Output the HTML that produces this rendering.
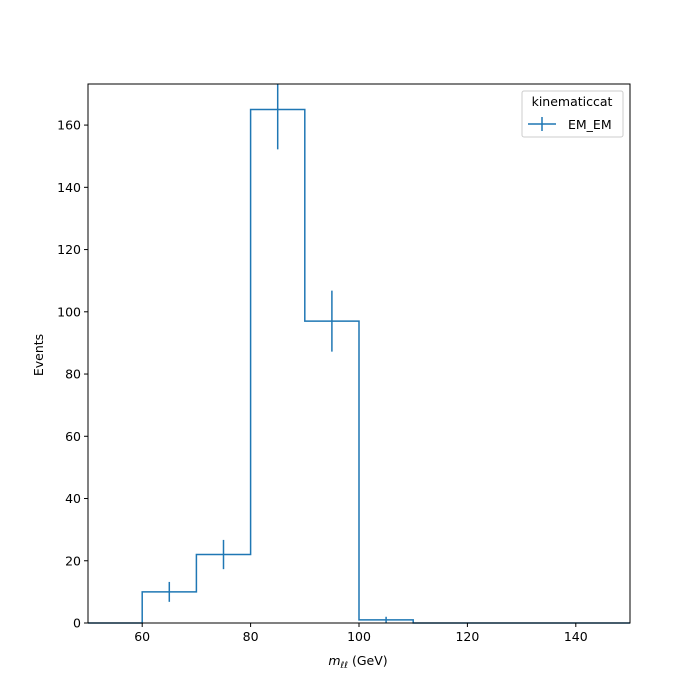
<!DOCTYPE html>
<html><head><meta charset="utf-8"><style>
html,body{margin:0;padding:0;background:#fff;width:700px;height:700px;overflow:hidden;font-family:"Liberation Sans","DejaVu Sans",sans-serif}
svg{display:block}
svg text{font-family:"DejaVu Sans","Liberation Sans",sans-serif;font-size:12.5px;fill:#000}
</style></head><body>
<svg id="chart" width="700" height="700" xmlns="http://www.w3.org/2000/svg">
<rect width="700" height="700" fill="#fff"/>
<g id="plot"></g>
<g id="axes"></g>
<g>
<rect x="522" y="91" width="101" height="46" rx="2" fill="#fff" stroke="#ccc"/>
<text x="572" y="106" text-anchor="middle">kinematiccat</text>
<g>
<line x1="528" y1="124" x2="556" y2="124" stroke="#1f77b4" stroke-width="1.5"/>
<line x1="542" y1="117" x2="542" y2="131" stroke="#1f77b4" stroke-width="1.5"/>
<text x="568" y="129">EM_EM</text>
</g>
</g>
<text x="358" y="665" text-anchor="middle"><tspan font-style="italic">m</tspan><tspan font-style="italic" font-size="9" dy="3">ℓℓ</tspan><tspan dy="-3"> (GeV)</tspan></text>
<text transform="translate(43,355) rotate(-90)" text-anchor="middle">Events</text>
</svg>
<script>
const binEdges=[50,60,70,80,90,100,110,120,130,140,150];
const counts=[0,10,22,165,97,1,0,0,0,0];
const errors=[0,3.2,4.7,12.8,9.8,1,0,0,0,0];
const xTicks=[60,80,100,120,140];
const yTicks=[0,20,40,60,80,100,120,140,160];
const X0=88,X1=630,Y0=623,Y1=84,xmin=50,xmax=150,ymax=173.2;
const sx=v=>X0+(v-xmin)/(xmax-xmin)*(X1-X0);
const sy=v=>Y0-v/ymax*(Y0-Y1);
const NS="http://www.w3.org/2000/svg";
const plot=document.getElementById('plot'),axes=document.getElementById('axes');
function mk(tag,attrs,parent){const e=document.createElementNS(NS,tag);for(const k in attrs)e.setAttribute(k,attrs[k]);parent.appendChild(e);return e;}
let d=`M${sx(binEdges[0])},${sy(counts[0])}`;
for(let i=0;i<counts.length;i++){d+=` L${sx(binEdges[i])},${sy(counts[i])} L${sx(binEdges[i+1])},${sy(counts[i])}`;}
const step=mk('path',{d:d,fill:'none',stroke:'#1f77b4','stroke-width':1.5},plot);


for(let i=0;i<counts.length;i++){
  if(counts[i]<=0)continue;
  const cx=sx((binEdges[i]+binEdges[i+1])/2);
  const eb=mk('line',{x1:cx,x2:cx,y1:sy(counts[i]-errors[i]),y2:Math.max(Y1,sy(counts[i]+errors[i])),stroke:'#1f77b4','stroke-width':1.5},plot);
  
  
}
const frame=mk('rect',{x:X0,y:Y1,width:X1-X0,height:Y0-Y1,fill:'none',stroke:'#000','stroke-width':1},axes);


xTicks.forEach(t=>{
  const x=sx(t);
  mk('line',{x1:x,x2:x,y1:Y0,y2:Y0+4,stroke:'#000'},axes);
  const tx=mk('text',{x:x,y:Y0+18,'text-anchor':'middle'},axes);tx.textContent=t;
  
  
});
yTicks.forEach(t=>{
  const y=sy(t);
  mk('line',{x1:X0-4,x2:X0,y1:y,y2:y,stroke:'#000'},axes);
  const tx=mk('text',{x:X0-7,y:y+4.5,'text-anchor':'end'},axes);tx.textContent=t;
  
  
});
</script>
</body></html>
